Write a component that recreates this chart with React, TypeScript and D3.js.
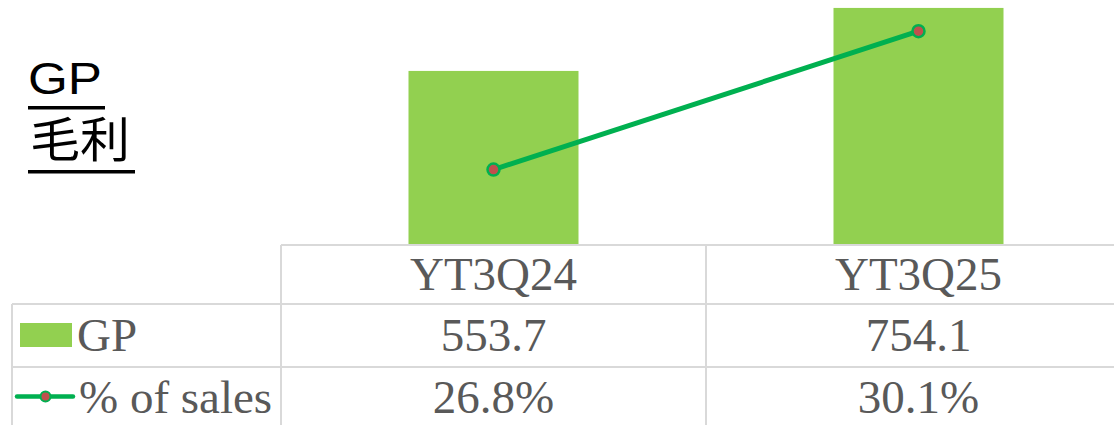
import React from "react";
import * as d3 from "d3";

const categories = ["YT3Q24", "YT3Q25"];
const gpValues = [553.7, 754.1];
const pctValues = [26.8, 30.1];
const gpLabels = ["553.7", "754.1"];
const pctLabels = ["26.8%", "30.1%"];
const seriesNames = ["GP", "% of sales"];
const titleLines = ["GP", "毛利"];

const W = 1114;
const H = 425;
const BAR = "#92D050";
const LINE = "#00B050";
const MARK = "#C0504D";
const GRID = "#D9D9D9";
const TXT = "#595959";
const SERIF = "'Liberation Serif', 'Times New Roman', serif";

export default function App() {
  const x = d3.scaleBand<string>().domain(categories).range([281, 1131]).padding(0);
  const yBar = d3.scaleLinear().domain([0, 800]).range([245, -6.5]);
  const yPct = d3.scaleLinear().domain([25, 31]).range([245, -6.5]);
  const bw = x.bandwidth() * 0.4;
  const cx = (c: string) => (x(c) as number) + x.bandwidth() / 2;

  const line = d3
    .line<number>()
    .x((_, i) => cx(categories[i]))
    .y((d) => yPct(d));

  const tableTop = 245;
  const row1 = 304;
  const row2 = 367;

  return (
    <svg
      width={W}
      height={H}
      style={{ position: "absolute", left: 0, top: 0, background: "#fff" }}
    >
      {/* title */}
      <text x={28} y={94} fontFamily="'Liberation Sans', Arial, sans-serif" fontSize={44} fill="#000" textLength={74} lengthAdjust="spacingAndGlyphs">
        {titleLines[0]}
      </text>
      <rect x={28} y={106} width={77} height={3.5} fill="#000" />
      <text x={30} y={157} fontFamily="'Noto Sans CJK SC', sans-serif" fontSize={48} fill="#000" textLength={100} lengthAdjust="spacingAndGlyphs">
        {titleLines[1]}
      </text>
      <rect x={28} y={170} width={107} height={3.5} fill="#000" />

      {/* bars */}
      {categories.map((c, i) => (
        <rect
          key={c}
          x={cx(c) - bw / 2}
          y={yBar(gpValues[i])}
          width={bw}
          height={yBar(0) - yBar(gpValues[i])}
          fill={BAR}
        />
      ))}

      {/* line */}
      <path d={line(pctValues) || ""} fill="none" stroke={LINE} strokeWidth={5} />
      {pctValues.map((v, i) => (
        <circle key={i} cx={cx(categories[i])} cy={yPct(v)} r={6} fill={MARK} stroke={LINE} strokeWidth={2.5} />
      ))}

      {/* table grid */}
      <g stroke={GRID} strokeWidth={2}>
        <line x1={281} x2={W} y1={tableTop} y2={tableTop} />
        <line x1={12} x2={W} y1={row1} y2={row1} />
        <line x1={12} x2={W} y1={row2} y2={row2} />
        <line x1={12} x2={12} y1={row1} y2={H} />
        <line x1={281} x2={281} y1={tableTop} y2={H} />
        <line x1={x(categories[1]) as number} x2={x(categories[1]) as number} y1={tableTop} y2={H} />
      </g>

      {/* table text */}
      {categories.map((c) => (
        <text key={c} x={cx(c)} y={290} textAnchor="middle" fontFamily={SERIF} fontSize={47} fill={TXT}>
          {c}
        </text>
      ))}
      {gpLabels.map((t, i) => (
        <text key={t} x={cx(categories[i])} y={351} textAnchor="middle" fontFamily={SERIF} fontSize={47} fill={TXT}>
          {t}
        </text>
      ))}
      {pctLabels.map((t, i) => (
        <text key={t} x={cx(categories[i])} y={413} textAnchor="middle" fontFamily={SERIF} fontSize={47} fill={TXT}>
          {t}
        </text>
      ))}

      {/* legend */}
      <rect x={20} y={323} width={52} height={24} fill={BAR} />
      <text x={77} y={351} fontFamily={SERIF} fontSize={47} fill={TXT}>
        {seriesNames[0]}
      </text>
      <line x1={17} x2={73} y1={396.5} y2={396.5} stroke={LINE} strokeWidth={4.5} strokeLinecap="round" />
      <circle cx={45.5} cy={396.5} r={5} fill={MARK} stroke={LINE} strokeWidth={2} />
      <text x={79} y={413} fontFamily={SERIF} fontSize={47} fill={TXT}>
        {seriesNames[1]}
      </text>
    </svg>
  );
}
